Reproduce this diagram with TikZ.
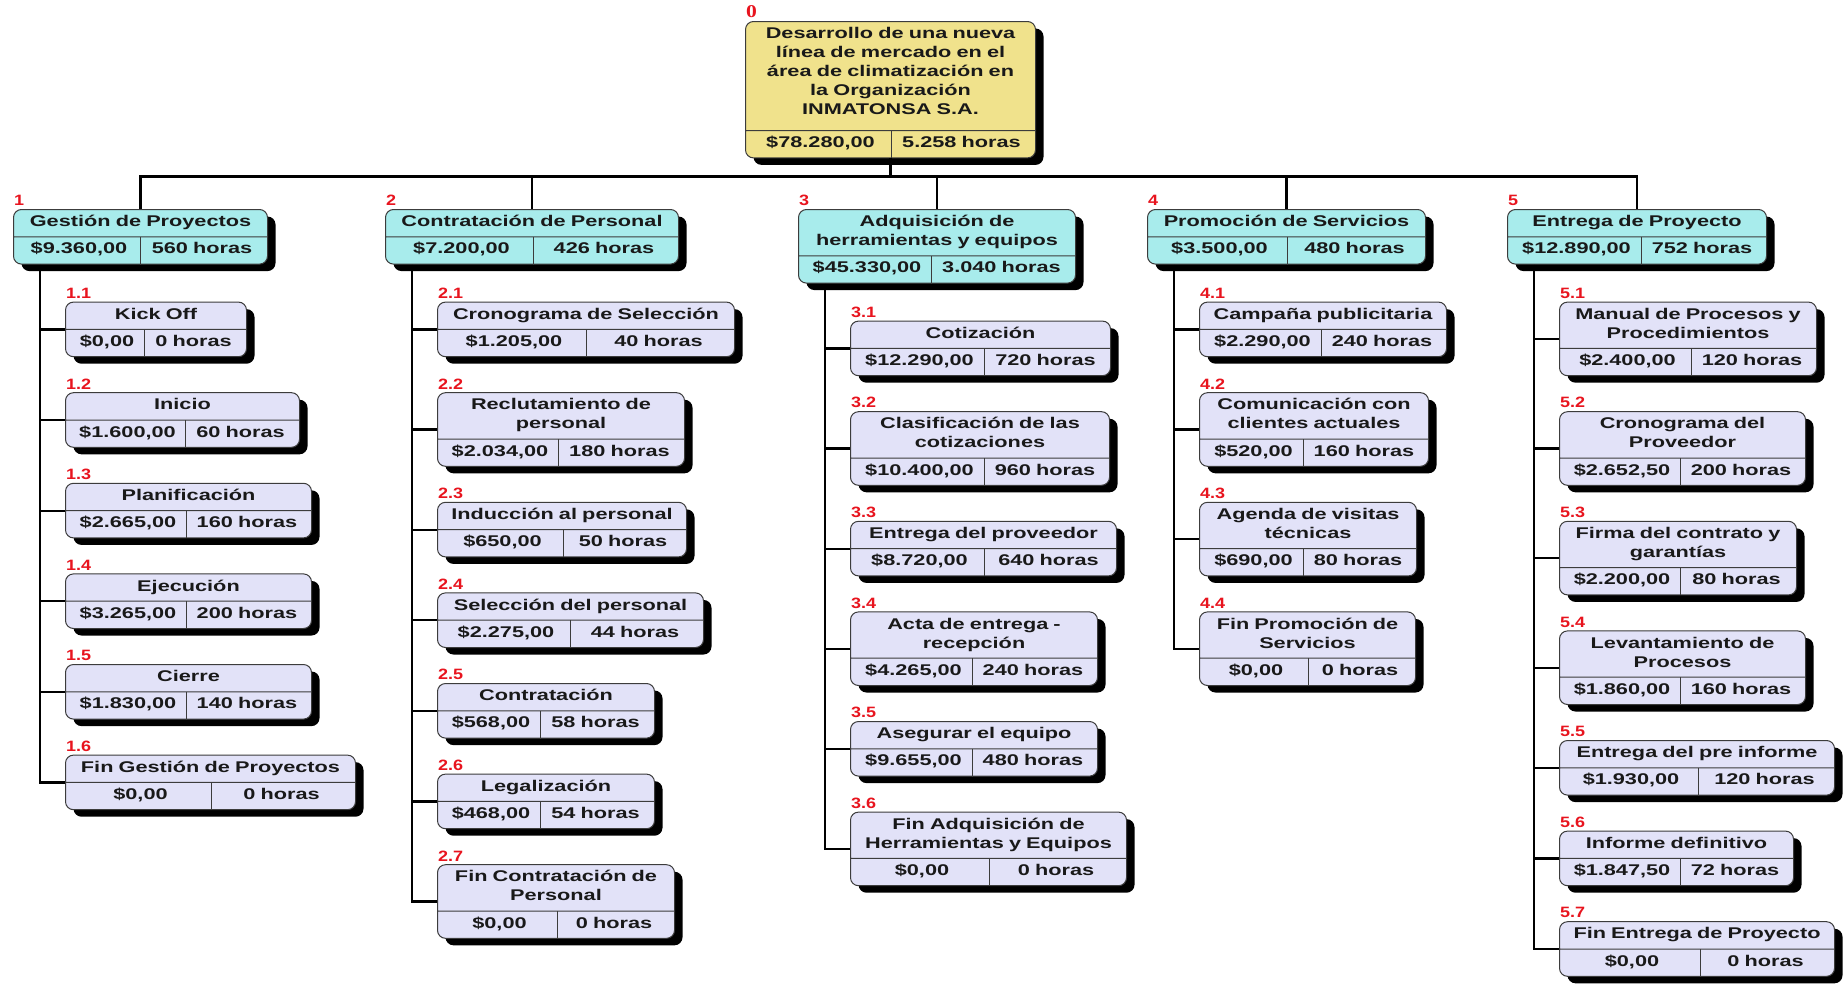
\documentclass[tikz,border=0pt]{standalone}
\usepackage{fontspec}
\setmainfont{Liberation Sans}
\newfontfamily\wbsfont{Liberation Sans}[FakeStretch=1.4]
\newfontfamily\numfont{Liberation Sans}[FakeStretch=1.2]
\newfontfamily\rootnum{Liberation Serif}[FakeStretch=1.2]
\usetikzlibrary{shapes.multipart,shadows,positioning}

\definecolor{rootfill}{RGB}{240,226,140}
\definecolor{phasefill}{RGB}{168,236,236}
\definecolor{taskfill}{RGB}{226,226,248}
\definecolor{edgegray}{RGB}{60,60,60}
\definecolor{numred}{RGB}{232,20,30}

\newcommand{\wbsstrut}{\rule[-5.2pt]{0pt}{17.3pt}}

\tikzset{
  treenode/.style = {shape=rectangle split, rectangle split parts=2,
                     rounded corners=8pt, draw=edgegray, line width=1pt,
                     align=center, inner xsep=4pt, inner ysep=4.5pt,
                     text=black!90,
                     font=\wbsfont\bfseries\fontsize{15.5}{19}\selectfont,
                     drop shadow={shadow xshift=8pt, shadow yshift=-7pt,
                                  fill=black, opacity=1}},
  root/.style     = {treenode, fill=rootfill},
  phase/.style    = {treenode, fill=phasefill},
  task/.style     = {treenode, fill=taskfill},
  num/.style      = {anchor=south west, inner sep=0pt, text=numred,
                     font=\numfont\bfseries\fontsize{15}{16}\selectfont},
  link/.style     = {draw, line width=2.2pt},
  cellsep/.style  = {draw=edgegray, line width=1pt},
  firstof/.style  = {below right=37pt and 52pt of #1.south west},
  nextof/.style   = {below right=35pt and 0pt of #1.south west}
}

% #1 placement, #2 name, #3 style, #4 number, #5 width, #6 cost cell,
% #7 title, #8 cost, #9 hours
\newcommand{\wbs}[9]{%
  \pgfmathsetlengthmacro{\wbstw}{#5-8}%
  \pgfmathsetlengthmacro{\wbscw}{#6-4}%
  \pgfmathsetlengthmacro{\wbshw}{#5-#6-4}%
  \node[#3, text width=\wbstw, #1] (#2)
    {\wbsstrut#7\wbsstrut\nodepart{two}\wbsstrut\makebox[\wbscw]{#8}\makebox[\wbshw]{#9}};
  \draw[cellsep] ([xshift=#6pt]#2.text split west) -- ([xshift=#6pt]#2.south west);
  \node[num] (#2-num) at ([shift={(1pt,3pt)}]#2.north west) {#4};
}

\begin{document}
\begin{tikzpicture}[x=1pt, y=-1pt]
\fill[white] (0,0) rectangle (1844,985);
\useasboundingbox (0,0) rectangle (1844,985);

\wbs{at={(745,21)}, anchor=north west}{root}{root}{\rootnum\bfseries\fontsize{18}{18}\selectfont 0}{290}{146}
  {Desarrollo de una nueva\\línea de mercado en el\\área de climatización en\\la Organización\\INMATONSA S.A.\rule[-11pt]{0pt}{1pt}}
  {\$78.280,00}{5.258 horas}

\wbs{at={(13,209)}, anchor=north west}{g1}{phase}{1}{254}{127}{Gestión de Proyectos}{\$9.360,00}{560 horas}
\wbs{at={(385,209)}, anchor=north west}{g2}{phase}{2}{293}{148}{Contratación de Personal}{\$7.200,00}{426 horas}
\wbs{at={(798,209)}, anchor=north west}{g3}{phase}{3}{277}{133}{Adquisición de\\herramientas y equipos}{\$45.330,00}{3.040 horas}
\wbs{at={(1147,209)}, anchor=north west}{g4}{phase}{4}{278}{140}{Promoción de Servicios}{\$3.500,00}{480 horas}
\wbs{at={(1507,209)}, anchor=north west}{g5}{phase}{5}{259}{134}{Entrega de Proyecto}{\$12.890,00}{752 horas}

\wbs{firstof=g1}{t11}{task}{1.1}{181}{79}{Kick Off}{\$0,00}{0 horas}
\wbs{nextof=t11}{t12}{task}{1.2}{234}{120}{Inicio}{\$1.600,00}{60 horas}
\wbs{nextof=t12}{t13}{task}{1.3}{246}{121}{Planificación}{\$2.665,00}{160 horas}
\wbs{nextof=t13}{t14}{task}{1.4}{246}{121}{Ejecución}{\$3.265,00}{200 horas}
\wbs{nextof=t14}{t15}{task}{1.5}{246}{121}{Cierre}{\$1.830,00}{140 horas}
\wbs{nextof=t15}{t16}{task}{1.6}{290}{146}{Fin Gestión de Proyectos}{\$0,00}{0 horas}

\wbs{firstof=g2}{t21}{task}{2.1}{297}{149}{Cronograma de Selección}{\$1.205,00}{40 horas}
\wbs{nextof=t21}{t22}{task}{2.2}{247}{121}{Reclutamiento de\\personal}{\$2.034,00}{180 horas}
\wbs{nextof=t22}{t23}{task}{2.3}{249}{126}{Inducción al personal}{\$650,00}{50 horas}
\wbs{nextof=t23}{t24}{task}{2.4}{266}{133}{Selección del personal}{\$2.275,00}{44 horas}
\wbs{nextof=t24}{t25}{task}{2.5}{217}{103}{Contratación}{\$568,00}{58 horas}
\wbs{nextof=t25}{t26}{task}{2.6}{217}{103}{Legalización}{\$468,00}{54 horas}
\wbs{nextof=t26}{t27}{task}{2.7}{237}{120}{Fin Contratación de\\Personal}{\$0,00}{0 horas}

\wbs{firstof=g3}{t31}{task}{3.1}{260}{134}{Cotización}{\$12.290,00}{720 horas}
\wbs{nextof=t31}{t32}{task}{3.2}{259}{134}{Clasificación de las\\cotizaciones}{\$10.400,00}{960 horas}
\wbs{nextof=t32}{t33}{task}{3.3}{266}{134}{Entrega del proveedor}{\$8.720,00}{640 horas}
\wbs{nextof=t33}{t34}{task}{3.4}{247}{122}{Acta de entrega -\\recepción}{\$4.265,00}{240 horas}
\wbs{nextof=t34}{t35}{task}{3.5}{247}{122}{Asegurar el equipo}{\$9.655,00}{480 horas}
\wbs{nextof=t35}{t36}{task}{3.6}{276}{139}{Fin Adquisición de\\Herramientas y Equipos}{\$0,00}{0 horas}

\wbs{firstof=g4}{t41}{task}{4.1}{247}{122}{Campaña publicitaria}{\$2.290,00}{240 horas}
\wbs{nextof=t41}{t42}{task}{4.2}{229}{104}{Comunicación con\\clientes actuales}{\$520,00}{160 horas}
\wbs{nextof=t42}{t43}{task}{4.3}{217}{104}{Agenda de visitas\\técnicas}{\$690,00}{80 horas}
\wbs{nextof=t43}{t44}{task}{4.4}{216}{109}{Fin Promoción de\\Servicios}{\$0,00}{0 horas}

\wbs{firstof=g5}{t51}{task}{5.1}{257}{132}{Manual de Procesos y\\Procedimientos}{\$2.400,00}{120 horas}
\wbs{nextof=t51}{t52}{task}{5.2}{246}{121}{Cronograma del\\Proveedor}{\$2.652,50}{200 horas}
\wbs{nextof=t52}{t53}{task}{5.3}{237}{121}{Firma del contrato y\\garantías}{\$2.200,00}{80 horas}
\wbs{nextof=t53}{t54}{task}{5.4}{246}{121}{Levantamiento de\\Procesos}{\$1.860,00}{160 horas}
\wbs{nextof=t54}{t55}{task}{5.5}{275}{139}{Entrega del pre informe}{\$1.930,00}{120 horas}
\wbs{nextof=t55}{t56}{task}{5.6}{234}{121}{Informe definitivo}{\$1.847,50}{72 horas}
\wbs{nextof=t56}{t57}{task}{5.7}{275}{141}{Fin Entrega de Proyecto}{\$0,00}{0 horas}

\draw[link] (root.south) -- ++(0,18) coordinate (hub);
\draw[link] (g1.north) |- (hub) -| (g5.north);
\foreach \g in {g2,g3,g4}
  \draw[link] (hub -| \g.north) -- (\g.north);

\foreach \g/\n in {1/6,2/7,3/6,4/4,5/7} {
  \coordinate (b\g) at ([xshift=27pt]g\g.south west);
  \draw[link] (b\g) |- (t\g\n.west);
  \foreach \k in {1,...,\n}
    \draw[link] (b\g |- t\g\k.west) -- (t\g\k.west);
}
\end{tikzpicture}
\end{document}
